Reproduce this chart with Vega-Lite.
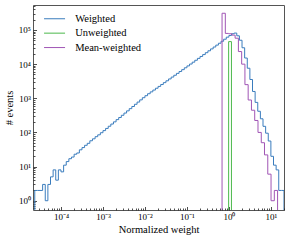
{
  "$schema": "https://vega.github.io/schema/vega-lite/v6.json",
  "width": 251,
  "height": 205,
  "autosize": {"type": "none"},
  "padding": {"left": 33, "top": 5, "right": 5, "bottom": 30},
  "background": "white",
  "config": {
    "font": "Liberation Serif",
    "view": {"stroke": "#555", "strokeWidth": 1},
    "axis": {
      "domain": false,
      "grid": false,
      "tickColor": "#222",
      "tickWidth": 0.8,
      "labelFont": "Liberation Serif",
      "labelFontSize": 9,
      "labelColor": "#000",
      "titleFont": "Liberation Serif",
      "titleFontSize": 10.5,
      "titleFontWeight": "normal",
      "titleColor": "#000",
      "labelFlush": false,
      "labelOverlap": false
    },
    "legend": {
      "orient": "none",
      "legendX": 16.3,
      "legendY": 8.5,
      "padding": 0,
      "symbolType": "M-3,0H3",
      "symbolSize": 49,
      "symbolStrokeWidth": 1,
      "labelOffset": 15.4,
      "labelFont": "Liberation Serif",
      "labelFontSize": 10.5,
      "labelColor": "#000",
      "rowPadding": 3.4
    }
  },
  "data": {
    "values": [
      {"s": "Weighted", "i": 0, "w": 2.3714e-5, "n": 0.01},
      {"s": "Weighted", "i": 1, "w": 2.3714e-5, "n": 2},
      {"s": "Weighted", "i": 2, "w": 2.7384e-5, "n": 2},
      {"s": "Weighted", "i": 3, "w": 3.1623e-5, "n": 2},
      {"s": "Weighted", "i": 4, "w": 3.6517e-5, "n": 3},
      {"s": "Weighted", "i": 5, "w": 4.2170e-5, "n": 1},
      {"s": "Weighted", "i": 6, "w": 4.8697e-5, "n": 3},
      {"s": "Weighted", "i": 7, "w": 5.6234e-5, "n": 5},
      {"s": "Weighted", "i": 8, "w": 6.4938e-5, "n": 8},
      {"s": "Weighted", "i": 9, "w": 7.4989e-5, "n": 4},
      {"s": "Weighted", "i": 10, "w": 8.6596e-5, "n": 8},
      {"s": "Weighted", "i": 11, "w": 1.0e-4, "n": 7},
      {"s": "Weighted", "i": 12, "w": 1.1548e-4, "n": 11},
      {"s": "Weighted", "i": 13, "w": 1.3335e-4, "n": 14},
      {"s": "Weighted", "i": 14, "w": 1.5399e-4, "n": 17},
      {"s": "Weighted", "i": 15, "w": 1.7783e-4, "n": 19},
      {"s": "Weighted", "i": 16, "w": 2.0535e-4, "n": 23},
      {"s": "Weighted", "i": 17, "w": 2.3714e-4, "n": 25},
      {"s": "Weighted", "i": 18, "w": 2.7384e-4, "n": 31},
      {"s": "Weighted", "i": 19, "w": 3.1623e-4, "n": 36},
      {"s": "Weighted", "i": 20, "w": 3.6517e-4, "n": 42},
      {"s": "Weighted", "i": 21, "w": 4.2170e-4, "n": 48},
      {"s": "Weighted", "i": 22, "w": 4.8697e-4, "n": 57},
      {"s": "Weighted", "i": 23, "w": 5.6234e-4, "n": 65},
      {"s": "Weighted", "i": 24, "w": 6.4938e-4, "n": 75},
      {"s": "Weighted", "i": 25, "w": 7.4989e-4, "n": 85},
      {"s": "Weighted", "i": 26, "w": 8.6596e-4, "n": 98},
      {"s": "Weighted", "i": 27, "w": 1.0e-3, "n": 113},
      {"s": "Weighted", "i": 28, "w": 1.1548e-3, "n": 131},
      {"s": "Weighted", "i": 29, "w": 1.3335e-3, "n": 152},
      {"s": "Weighted", "i": 30, "w": 1.5399e-3, "n": 176},
      {"s": "Weighted", "i": 31, "w": 1.7783e-3, "n": 204},
      {"s": "Weighted", "i": 32, "w": 2.0535e-3, "n": 237},
      {"s": "Weighted", "i": 33, "w": 2.3714e-3, "n": 274},
      {"s": "Weighted", "i": 34, "w": 2.7384e-3, "n": 318},
      {"s": "Weighted", "i": 35, "w": 3.1623e-3, "n": 369},
      {"s": "Weighted", "i": 36, "w": 3.6517e-3, "n": 428},
      {"s": "Weighted", "i": 37, "w": 4.2170e-3, "n": 497},
      {"s": "Weighted", "i": 38, "w": 4.8697e-3, "n": 575},
      {"s": "Weighted", "i": 39, "w": 5.6234e-3, "n": 668},
      {"s": "Weighted", "i": 40, "w": 6.4938e-3, "n": 775},
      {"s": "Weighted", "i": 41, "w": 7.4989e-3, "n": 898},
      {"s": "Weighted", "i": 42, "w": 8.6596e-3, "n": 1040},
      {"s": "Weighted", "i": 43, "w": 0.01, "n": 1190},
      {"s": "Weighted", "i": 44, "w": 0.011548, "n": 1360},
      {"s": "Weighted", "i": 45, "w": 0.013335, "n": 1540},
      {"s": "Weighted", "i": 46, "w": 0.015399, "n": 1740},
      {"s": "Weighted", "i": 47, "w": 0.017783, "n": 1970},
      {"s": "Weighted", "i": 48, "w": 0.020535, "n": 2230},
      {"s": "Weighted", "i": 49, "w": 0.023714, "n": 2530},
      {"s": "Weighted", "i": 50, "w": 0.027384, "n": 2870},
      {"s": "Weighted", "i": 51, "w": 0.031623, "n": 3250},
      {"s": "Weighted", "i": 52, "w": 0.036517, "n": 3690},
      {"s": "Weighted", "i": 53, "w": 0.04217, "n": 4180},
      {"s": "Weighted", "i": 54, "w": 0.048697, "n": 4730},
      {"s": "Weighted", "i": 55, "w": 0.056234, "n": 5370},
      {"s": "Weighted", "i": 56, "w": 0.064938, "n": 6080},
      {"s": "Weighted", "i": 57, "w": 0.074989, "n": 6890},
      {"s": "Weighted", "i": 58, "w": 0.086596, "n": 7820},
      {"s": "Weighted", "i": 59, "w": 0.1, "n": 8870},
      {"s": "Weighted", "i": 60, "w": 0.11548, "n": 10070},
      {"s": "Weighted", "i": 61, "w": 0.13335, "n": 11430},
      {"s": "Weighted", "i": 62, "w": 0.15399, "n": 13000},
      {"s": "Weighted", "i": 63, "w": 0.17783, "n": 14760},
      {"s": "Weighted", "i": 64, "w": 0.20535, "n": 16790},
      {"s": "Weighted", "i": 65, "w": 0.23714, "n": 19050},
      {"s": "Weighted", "i": 66, "w": 0.27384, "n": 21630},
      {"s": "Weighted", "i": 67, "w": 0.31623, "n": 24600},
      {"s": "Weighted", "i": 68, "w": 0.36517, "n": 27920},
      {"s": "Weighted", "i": 69, "w": 0.4217, "n": 31700},
      {"s": "Weighted", "i": 70, "w": 0.48697, "n": 36060},
      {"s": "Weighted", "i": 71, "w": 0.56234, "n": 40930},
      {"s": "Weighted", "i": 72, "w": 0.64938, "n": 46800},
      {"s": "Weighted", "i": 73, "w": 0.74989, "n": 53700},
      {"s": "Weighted", "i": 74, "w": 0.86596, "n": 61700},
      {"s": "Weighted", "i": 75, "w": 1.0, "n": 69200},
      {"s": "Weighted", "i": 76, "w": 1.1548, "n": 77600},
      {"s": "Weighted", "i": 77, "w": 1.3335, "n": 81300},
      {"s": "Weighted", "i": 78, "w": 1.5399, "n": 67600},
      {"s": "Weighted", "i": 79, "w": 1.7783, "n": 50100},
      {"s": "Weighted", "i": 80, "w": 2.0535, "n": 30200},
      {"s": "Weighted", "i": 81, "w": 2.3714, "n": 15100},
      {"s": "Weighted", "i": 82, "w": 2.7384, "n": 7590},
      {"s": "Weighted", "i": 83, "w": 3.1623, "n": 3550},
      {"s": "Weighted", "i": 84, "w": 3.6517, "n": 1585},
      {"s": "Weighted", "i": 85, "w": 4.217, "n": 759},
      {"s": "Weighted", "i": 86, "w": 4.8697, "n": 417},
      {"s": "Weighted", "i": 87, "w": 5.6234, "n": 251},
      {"s": "Weighted", "i": 88, "w": 6.4938, "n": 151},
      {"s": "Weighted", "i": 89, "w": 7.4989, "n": 95},
      {"s": "Weighted", "i": 90, "w": 8.6596, "n": 56},
      {"s": "Weighted", "i": 91, "w": 10.0, "n": 20},
      {"s": "Weighted", "i": 92, "w": 11.548, "n": 11},
      {"s": "Weighted", "i": 93, "w": 13.335, "n": 8},
      {"s": "Weighted", "i": 94, "w": 15.399, "n": 2},
      {"s": "Weighted", "i": 95, "w": 17.783, "n": 2},
      {"s": "Weighted", "i": 96, "w": 20.535, "n": 0.01},
      {"s": "Unweighted", "i": 0, "w": 0.985, "n": 0.01},
      {"s": "Unweighted", "i": 1, "w": 0.985, "n": 45700},
      {"s": "Unweighted", "i": 2, "w": 1.15, "n": 0.01},
      {"s": "Mean-weighted", "i": 0, "w": 0.687, "n": 0.01},
      {"s": "Mean-weighted", "i": 1, "w": 0.687, "n": 309000},
      {"s": "Mean-weighted", "i": 2, "w": 0.822, "n": 79400},
      {"s": "Mean-weighted", "i": 3, "w": 0.984, "n": 77600},
      {"s": "Mean-weighted", "i": 4, "w": 1.178, "n": 70800},
      {"s": "Mean-weighted", "i": 5, "w": 1.406, "n": 57500},
      {"s": "Mean-weighted", "i": 6, "w": 1.683, "n": 23400},
      {"s": "Mean-weighted", "i": 7, "w": 2.014, "n": 10000},
      {"s": "Mean-weighted", "i": 8, "w": 2.41, "n": 2510},
      {"s": "Mean-weighted", "i": 9, "w": 2.877, "n": 891},
      {"s": "Mean-weighted", "i": 10, "w": 3.443, "n": 447},
      {"s": "Mean-weighted", "i": 11, "w": 4.121, "n": 224},
      {"s": "Mean-weighted", "i": 12, "w": 4.932, "n": 100},
      {"s": "Mean-weighted", "i": 13, "w": 5.902, "n": 50},
      {"s": "Mean-weighted", "i": 14, "w": 7.047, "n": 22},
      {"s": "Mean-weighted", "i": 15, "w": 8.433, "n": 6},
      {"s": "Mean-weighted", "i": 16, "w": 10.09, "n": 1},
      {"s": "Mean-weighted", "i": 17, "w": 12.08, "n": 2},
      {"s": "Mean-weighted", "i": 18, "w": 14.45, "n": 0.01}
    ]
  },
  "mark": {"type": "line", "interpolate": "step-after", "clip": true, "strokeWidth": 1},
  "encoding": {
    "x": {
      "field": "w",
      "type": "quantitative",
      "scale": {"type": "log", "domain": [2.153e-5, 20.54], "nice": false},
      "axis": {
        "title": "Normalized weight",
        "titleBaseline": "alphabetic",
        "titleY": 22.5,
        "values": [3e-5, 4e-5, 5e-5, 6e-5, 7e-5, 8e-5, 9e-5, 0.0001, 0.0002, 0.0003, 0.0004, 0.0005, 0.0006, 0.0007, 0.0008, 0.0009, 0.001, 0.002, 0.003, 0.004, 0.005, 0.006, 0.007, 0.008, 0.009, 0.01, 0.02, 0.03, 0.04, 0.05, 0.06, 0.07, 0.08, 0.09, 0.1, 0.2, 0.3, 0.4, 0.5, 0.6, 0.7, 0.8, 0.9, 1, 2, 3, 4, 5, 6, 7, 8, 9, 10, 20],
        "labelExpr": "datum.value == 0.0001 ? '10⁻⁴' : datum.value == 0.001 ? '10⁻³' : datum.value == 0.01 ? '10⁻²' : datum.value == 0.1 ? '10⁻¹' : datum.value == 1 ? '10⁰' : datum.value == 10 ? '10¹' : ''",
        "tickSize": {"condition": {"test": "indexof([0.0001, 0.001, 0.01, 0.1, 1, 10], datum.value) >= 0", "value": -3.5}, "value": -2},
        "labelPadding": 6,
        "labelBaseline": "top"
      }
    },
    "y": {
      "field": "n",
      "type": "quantitative",
      "scale": {"type": "log", "domain": [0.535, 539500], "nice": false},
      "axis": {
        "title": "# events",
        "titleBaseline": "alphabetic",
        "titleX": -20.5,
        "values": [0.6, 0.7, 0.8, 0.9, 1, 2, 3, 4, 5, 6, 7, 8, 9, 10, 20, 30, 40, 50, 60, 70, 80, 90, 100, 200, 300, 400, 500, 600, 700, 800, 900, 1000, 2000, 3000, 4000, 5000, 6000, 7000, 8000, 9000, 10000, 20000, 30000, 40000, 50000, 60000, 70000, 80000, 90000, 100000, 200000, 300000, 400000, 500000],
        "labelExpr": "datum.value == 1 ? '10⁰' : datum.value == 10 ? '10¹' : datum.value == 100 ? '10²' : datum.value == 1000 ? '10³' : datum.value == 10000 ? '10⁴' : datum.value == 100000 ? '10⁵' : ''",
        "tickSize": {"condition": {"test": "indexof([1, 10, 100, 1000, 10000, 100000], datum.value) >= 0", "value": -3.5}, "value": -2},
        "labelPadding": 6,
        "labelBaseline": "middle"
      }
    },
    "color": {
      "field": "s",
      "type": "nominal",
      "scale": {"domain": ["Weighted", "Unweighted", "Mean-weighted"], "range": ["#3a7cbd", "#4cb84c", "#a055b5"]},
      "legend": {"title": null}
    },
    "order": {"field": "i", "type": "quantitative"}
  }
}
